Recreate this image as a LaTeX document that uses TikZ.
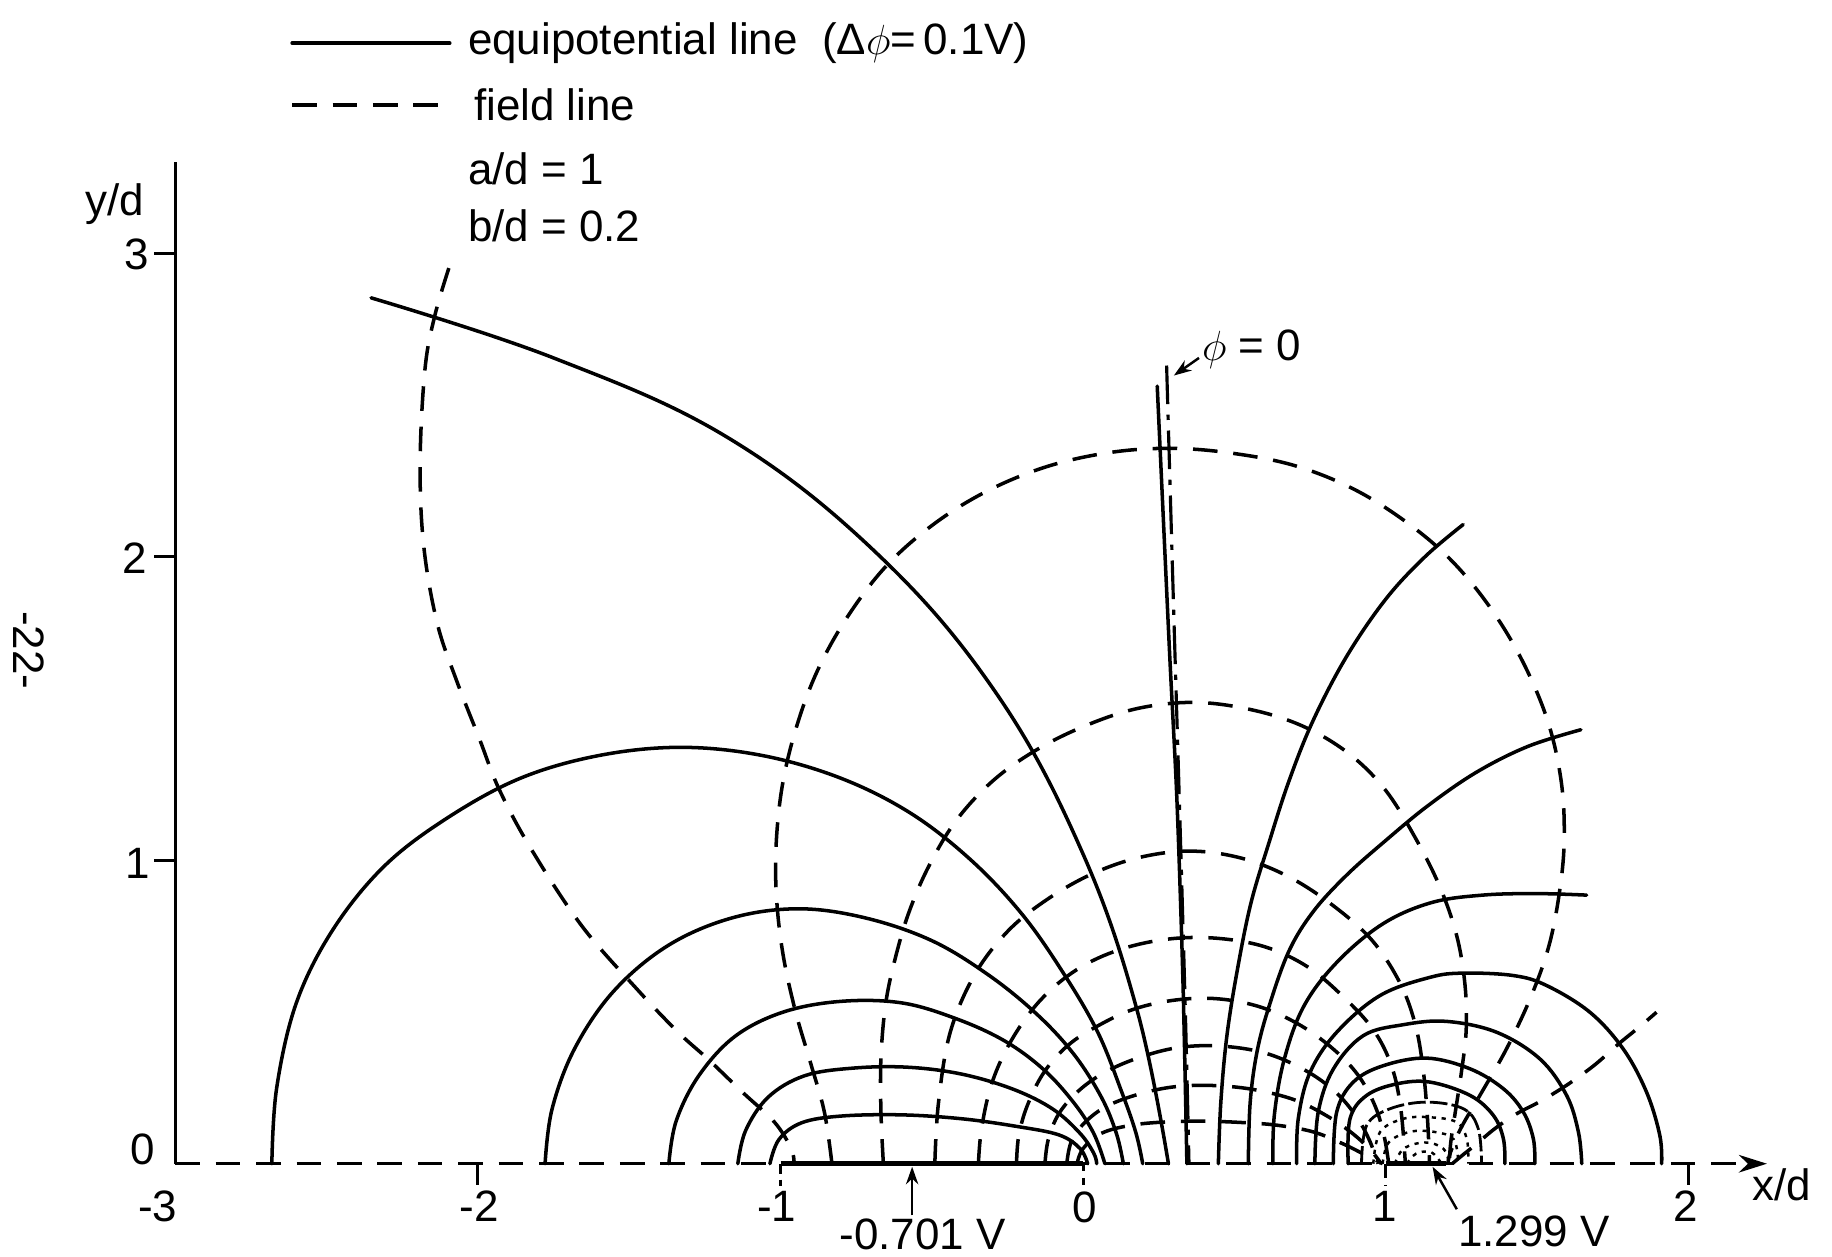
\documentclass[tikz,border=0pt]{standalone}
\usepackage{fontspec}
\setmainfont{Liberation Sans}
\usetikzlibrary{arrows.meta}
\begin{document}
\begin{tikzpicture}[x=3.026cm,y=3.035cm,
  equi/.style={line width=1pt,line cap=round,line join=round},
  fieldln/.style={line width=1pt,dash pattern=on 7pt off 4.5pt},
  dashdotln/.style={line width=0.9pt,dash pattern=on 11pt off 3pt on 1.5pt off 3pt},
  faint/.style={line width=0.7pt,dash pattern=on 1.2pt off 1.6pt},
  brokenln/.style={line width=0.8pt,dash pattern=on 5pt off 1.2pt},
  axisln/.style={line width=0.9pt},
  electrode/.style={line width=1.3pt},
  lbl/.style={font=\fontsize{12.5}{14}\selectfont,inner sep=0pt},
  pointer/.style={line width=0.7pt,-{Stealth[length=5pt,width=3.5pt]}},
]
\useasboundingbox (-3.5794,-0.3065) rectangle (2.4749,3.8344);
\fill[white] (-3.5794,-0.3065) rectangle (2.4749,3.8344);

% ---------------- legend ----------------
\draw[equi] (-2.614,3.692) -- (-2.093,3.692);
\node[lbl,anchor=west] (leg1) at (-2.035,3.692) {equipotential line~~(Δ$\phi$=\,0.1V)};
\draw[fieldln] (-2.614,3.488) -- (-2.093,3.488);
\node[lbl,anchor=west] (leg2) at (-2.015,3.488) {field line};
\node[lbl,anchor=west] (leg3) at (-2.035,3.277) {a/d = 1};
\node[lbl,anchor=west] (leg4) at (-2.035,3.092) {b/d = 0.2};

% ---------------- page number ----------------
\node[lbl,rotate=-90] (page) at (-3.483,1.692) {-22-};

% ---------------- axes ----------------
\draw[axisln] (-3,0) -- (-3,3.30);
\foreach \yy in {1,2,3} \draw[axisln] (-3.07,\yy) -- (-3,\yy);
\node[lbl] (y0) at (-3.108,0.046) {0};
\node[lbl] (y1) at (-3.124,0.988) {1};
\node[lbl] (y2) at (-3.135,1.996) {2};
\node[lbl] (y3) at (-3.127,2.996) {3};
\node[lbl] (ylab) at (-3.20,3.162) {y/d};

\draw[fieldln,-{Stealth[length=8pt,width=5pt]}] (-3,0) -- (2.26,0);
\draw[electrode] (-1,0) -- (0,0);
\draw[electrode] (1,0) -- (1.2,0);
\draw[axisln] (-2,0) -- (-2,-0.07);
\draw[axisln,dash pattern=on 3pt off 1.5pt] (-1,0) -- (-1,-0.075);
\draw[axisln,dash pattern=on 2pt off 2pt] (0,0) -- (0,-0.075);
\draw[axisln,dash pattern=on 4pt off 2pt] (1,0) -- (1,-0.075);
\draw[axisln] (2,0) -- (2,-0.07);
\node[lbl] (xm3) at (-3.058,-0.14) {-3};
\node[lbl] (xm2) at (-1.996,-0.14) {-2};
\node[lbl] (xm1) at (-1.012,-0.14) {-1};
\node[lbl] (x0) at (0.004,-0.145) {0};
\node[lbl] (x1) at (0.996,-0.14) {1};
\node[lbl] (x2) at (1.992,-0.14) {2};
\node[lbl] (xlab) at (2.309,-0.069) {x/d};

% electrode potentials
\node[lbl] (vleft) at (-0.53,-0.232) {-0.701 V};
\coordinate (vlefttip) at (-0.565,-0.01);
\draw[pointer] (-0.565,-0.17) -- (vlefttip);
\node[lbl] (vright) at (1.49,-0.222) {1.299 V};
\coordinate (vrighttip) at (1.155,-0.01);
\draw[pointer] (1.235,-0.15) -- (vrighttip);

% ---------------- phi = 0 line ----------------
\draw[equi] plot[smooth,tension=0.5] coordinates {(0.245,2.562) (0.285,1.7) (0.31,1.2) (0.33,0.6) (0.343,0)};
\draw[dashdotln] plot[smooth,tension=0.5] coordinates {(0.276,2.63) (0.300,1.8) (0.318,1.2) (0.338,0.5) (0.350,0)};
\node[lbl] (phizero) at (0.557,2.682) {$\phi$ = 0};
\coordinate (phitip) at (0.300,2.597);
\draw[pointer] (0.383,2.655) -- (phitip);

% ---------------- equipotentials around left electrode ----------------
\draw[equi] plot[smooth,tension=0.65] coordinates {(-2.353,2.853) (-1.75,2.655) (-1.17,2.39) (-0.67,2.0) (-0.28,1.54) (0.0,1.02) (0.18,0.50) (0.282,0)};
\draw[equi] plot[smooth,tension=0.6] coordinates {(-2.681,0) (-2.665,0.25) (-2.60,0.53) (-2.48,0.77) (-2.31,0.98) (-2.10,1.14) (-1.86,1.27) (-1.60,1.345) (-1.33,1.372) (-1.06,1.345) (-0.80,1.27) (-0.57,1.155) (-0.37,1.0) (-0.20,0.82) (-0.06,0.62) (0.05,0.43) (0.13,0.23) (0.175,0.10) (0.197,0)};
\draw[equi] plot[smooth,tension=0.6] coordinates {(-1.778,0) (-1.755,0.18) (-1.68,0.38) (-1.55,0.57) (-1.37,0.72) (-1.16,0.81) (-0.94,0.84) (-0.72,0.81) (-0.50,0.735) (-0.31,0.62) (-0.15,0.49) (-0.03,0.36) (0.06,0.22) (0.11,0.10) (0.133,0)};
\draw[equi] plot[smooth,tension=0.6] coordinates {(-1.369,0) (-1.345,0.14) (-1.27,0.29) (-1.15,0.42) (-0.99,0.50) (-0.80,0.535) (-0.60,0.53) (-0.42,0.478) (-0.26,0.405) (-0.13,0.31) (-0.03,0.20) (0.035,0.10) (0.072,0)};
\draw[equi] plot[smooth,tension=0.6] coordinates {(-1.141,0) (-1.115,0.11) (-1.04,0.22) (-0.92,0.29) (-0.76,0.315) (-0.58,0.318) (-0.40,0.295) (-0.23,0.245) (-0.10,0.18) (-0.01,0.10) (0.035,0.035) (0.045,0)};
\draw[equi] plot[smooth,tension=0.6] coordinates {(-1.035,0) (-1.005,0.08) (-0.93,0.135) (-0.80,0.157) (-0.60,0.161) (-0.40,0.148) (-0.22,0.123) (-0.08,0.095) (-0.01,0.05) (0.015,0)};

% ---------------- equipotentials around right electrode ----------------
\draw[equi] plot[smooth,tension=0.6] coordinates {(0.447,0) (0.455,0.20) (0.475,0.42) (0.51,0.64) (0.555,0.86) (0.615,1.06) (0.68,1.26) (0.76,1.46) (0.87,1.67) (1.0,1.86) (1.13,2.0) (1.256,2.106)};
\draw[equi] plot[smooth,tension=0.6] coordinates {(0.546,0) (0.552,0.2) (0.575,0.37) (0.615,0.52) (0.68,0.70) (0.76,0.83) (0.87,0.95) (1.0,1.065) (1.14,1.18) (1.30,1.29) (1.47,1.375) (1.645,1.43)};
\draw[equi] plot[smooth,tension=0.6] coordinates {(0.627,0) (0.632,0.16) (0.665,0.345) (0.73,0.52) (0.84,0.665) (0.99,0.79) (1.15,0.86) (1.32,0.885) (1.50,0.89) (1.664,0.885)};
\draw[equi] plot[smooth,tension=0.6] coordinates {(0.706,0) (0.711,0.148) (0.750,0.301) (0.838,0.433) (0.981,0.554) (1.146,0.614) (1.257,0.628) (1.422,0.620) (1.532,0.587) (1.675,0.499) (1.785,0.378) (1.862,0.236) (1.906,0.093) (1.912,0)};
\draw[equi] plot[smooth,tension=0.6] coordinates {(0.766,0) (0.777,0.170) (0.827,0.312) (0.926,0.422) (1.058,0.458) (1.201,0.469) (1.367,0.433) (1.510,0.345) (1.598,0.225) (1.637,0.104) (1.648,0)};
\draw[equi] plot[smooth,tension=0.6] coordinates {(0.827,0) (0.838,0.170) (0.893,0.269) (0.992,0.323) (1.135,0.348) (1.278,0.313) (1.389,0.247) (1.455,0.170) (1.488,0.082) (1.493,0)};
\draw[equi] plot[smooth,tension=0.6] coordinates {(0.876,0) (0.882,0.148) (0.937,0.225) (1.036,0.263) (1.146,0.269) (1.279,0.225) (1.356,0.159) (1.389,0.082) (1.394,0)};
\draw[brokenln] plot[smooth,tension=0.6] coordinates {(0.920,0) (0.937,0.126) (1.014,0.181) (1.135,0.203) (1.257,0.181) (1.306,0.115) (1.317,0)};
\draw[faint] plot[smooth,tension=0.6] coordinates {(0.959,0) (0.981,0.104) (1.058,0.148) (1.146,0.153) (1.234,0.137) (1.268,0.082) (1.273,0)};
\draw[faint] plot[smooth,tension=0.6] coordinates {(0.99,0) (1.01,0.07) (1.08,0.105) (1.16,0.105) (1.225,0.08) (1.24,0)};
\draw[faint] plot[smooth,tension=0.6] coordinates {(1.03,0) (1.06,0.05) (1.13,0.07) (1.19,0.05) (1.21,0)};
\draw[faint] plot[smooth,tension=0.6] coordinates {(1.07,0) (1.10,0.033) (1.15,0.038) (1.185,0)};

% ---------------- field lines ----------------
\draw[fieldln] plot[smooth,tension=0.6] coordinates {(-2.096,2.951) (-2.143,2.792) (-2.175,2.617) (-2.191,2.309) (-2.179,2.035) (-2.135,1.783) (-2.072,1.596) (-1.995,1.40) (-1.930,1.234) (-1.824,1.037) (-1.657,0.784) (-1.475,0.576) (-1.338,0.433) (-1.240,0.345) (-1.126,0.236) (-1.020,0.137) (-0.965,0.05) (-0.955,0)};
\draw[fieldln] plot[smooth,tension=0.6] coordinates {(-0.830,0) (-0.855,0.17) (-0.90,0.33) (-0.95,0.50) (-0.99,0.68) (-1.012,0.86) (-1.015,1.04) (-0.995,1.24) (-0.95,1.43) (-0.88,1.62) (-0.78,1.80) (-0.65,1.97) (-0.49,2.11) (-0.31,2.22) (-0.11,2.30) (0.10,2.345) (0.30,2.357) (0.50,2.34) (0.70,2.30) (0.89,2.225) (1.06,2.12) (1.21,1.995) (1.34,1.84) (1.45,1.66) (1.535,1.46) (1.58,1.26) (1.59,1.07) (1.575,0.90) (1.54,0.72) (1.48,0.55) (1.40,0.38) (1.32,0.24) (1.25,0.12) (1.215,0.04) (1.205,0)};
\draw[fieldln] plot[smooth,tension=0.6] coordinates {(-0.660,0) (-0.668,0.17) (-0.668,0.35) (-0.652,0.53) (-0.62,0.68) (-0.575,0.83) (-0.51,0.98) (-0.42,1.13) (-0.30,1.26) (-0.16,1.36) (0.0,1.44) (0.18,1.50) (0.37,1.52) (0.56,1.495) (0.73,1.44) (0.88,1.35) (1.0,1.23) (1.10,1.07) (1.18,0.91) (1.235,0.75) (1.262,0.59) (1.266,0.44) (1.25,0.30) (1.23,0.17) (1.215,0.07) (1.21,0)};
\draw[fieldln] plot[smooth,tension=0.6] coordinates {(-0.49,0) (-0.478,0.2) (-0.44,0.43) (-0.36,0.62) (-0.25,0.765) (-0.12,0.87) (0.03,0.955) (0.19,1.01) (0.36,1.03) (0.53,1.005) (0.69,0.94) (0.84,0.84) (0.96,0.73) (1.05,0.59) (1.10,0.45) (1.125,0.30) (1.138,0.15) (1.145,0)};
\draw[fieldln] plot[smooth,tension=0.6] coordinates {(-0.346,0) (-0.335,0.12) (-0.30,0.27) (-0.235,0.41) (-0.14,0.54) (-0.02,0.64) (0.12,0.705) (0.28,0.74) (0.44,0.743) (0.60,0.715) (0.74,0.65) (0.86,0.55) (0.96,0.44) (1.02,0.32) (1.05,0.18) (1.065,0)};
\draw[fieldln] plot[smooth,tension=0.6] coordinates {(-0.22,0) (-0.213,0.09) (-0.185,0.19) (-0.13,0.30) (-0.05,0.39) (0.05,0.455) (0.17,0.51) (0.31,0.54) (0.45,0.543) (0.59,0.515) (0.72,0.455) (0.83,0.375) (0.91,0.29) (0.965,0.19) (0.995,0.09) (1.01,0)};
\draw[fieldln] plot[smooth,tension=0.6] coordinates {(-0.126,0) (-0.115,0.08) (-0.08,0.165) (-0.015,0.24) (0.07,0.30) (0.18,0.348) (0.31,0.382) (0.45,0.388) (0.60,0.365) (0.73,0.31) (0.83,0.24) (0.90,0.16) (0.945,0.08) (0.975,0)};
\draw[fieldln] plot[smooth,tension=0.6] coordinates {(-0.054,0) (-0.04,0.07) (0.0,0.13) (0.07,0.185) (0.17,0.225) (0.29,0.252) (0.42,0.258) (0.56,0.245) (0.70,0.21) (0.81,0.155) (0.89,0.10) (0.95,0.045) (0.985,0)};
\draw[fieldln] plot[smooth,tension=0.6] coordinates {(-0.02,0) (0.0,0.05) (0.06,0.10) (0.16,0.127) (0.28,0.138) (0.40,0.14) (0.52,0.136) (0.64,0.127) (0.76,0.105) (0.86,0.065) (0.94,0.025) (0.99,0)};
\draw[fieldln] plot[smooth,tension=0.6] coordinates {(1.22,0) (1.25,0.025) (1.30,0.065) (1.36,0.115) (1.43,0.163) (1.51,0.205) (1.60,0.26) (1.69,0.325) (1.77,0.395) (1.84,0.452) (1.895,0.499)};
\end{tikzpicture}
\end{document}
